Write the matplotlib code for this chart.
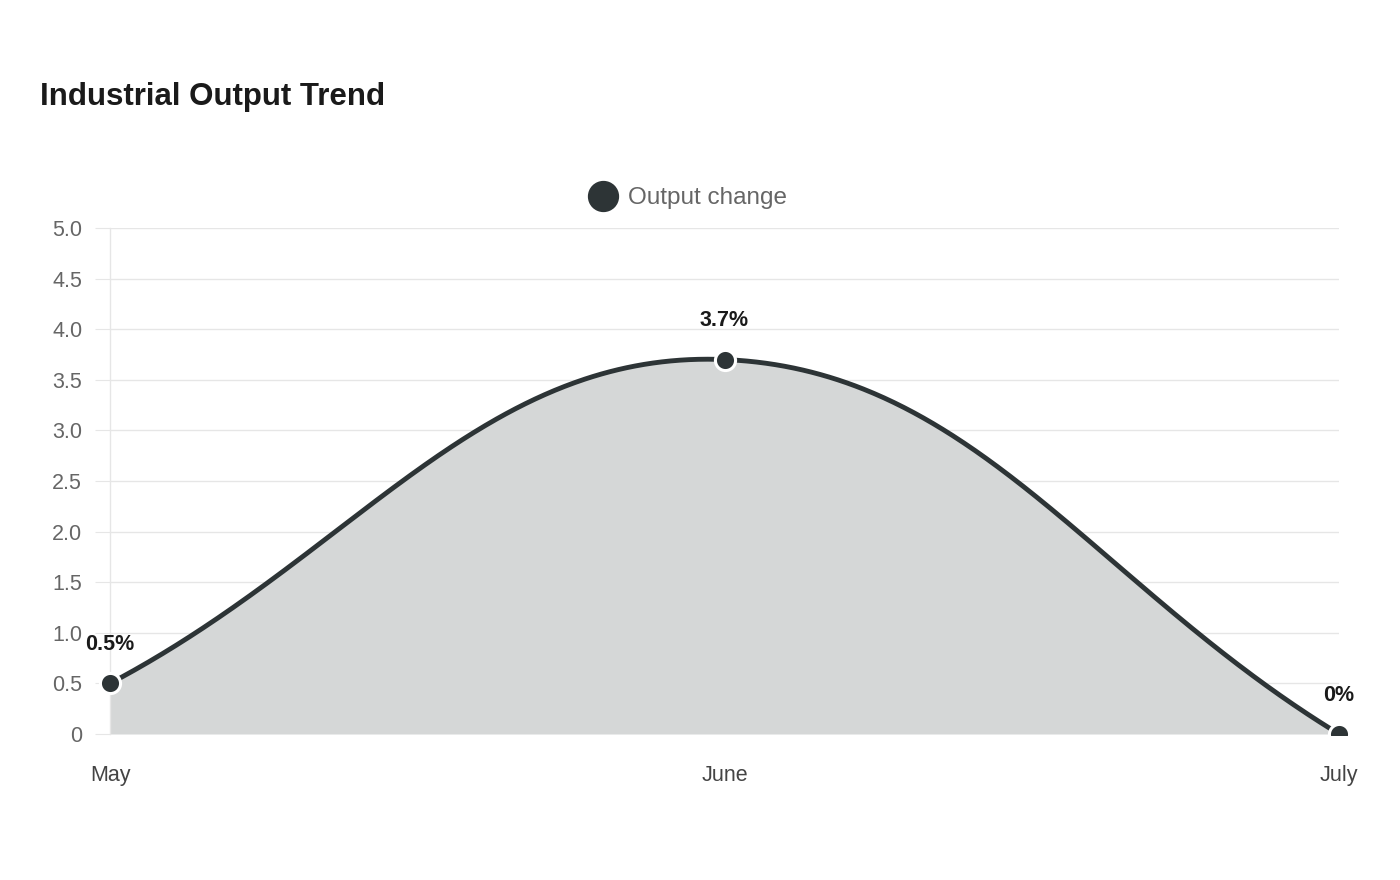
import numpy as np
import matplotlib.pyplot as plt
from matplotlib.patches import Rectangle
from matplotlib.lines import Line2D
from matplotlib.ticker import FuncFormatter

plt.rcParams['font.family'] = ['Liberation Sans', 'DejaVu Sans']

months = ["May", "June", "July"]
output_change = [0.5, 3.7, 0.0]
point_labels = ["0.5%", "3.7%", "0%"]

LINE = "#2d3436"
FILL = "#d5d7d7"
GRID = "#e6e6e6"
TENSION = 0.4
# pixel size of one unit on each axis, so the spline bends like the original
PX_X = 614.5
PX_Y = 101.2


def bezier_spline(xs, ys, t=TENSION, n=300):
    # same control points as a chart.js line with tension
    px = np.asarray(xs, float) * PX_X
    py = np.asarray(ys, float) * PX_Y
    k = len(px)
    ctrl = []
    for i in range(k):
        i0, i2 = max(i - 1, 0), min(i + 1, k - 1)
        d01 = np.hypot(px[i] - px[i0], py[i] - py[i0])
        d12 = np.hypot(px[i2] - px[i], py[i2] - py[i])
        tot = d01 + d12
        fa = t * d01 / tot if tot else 0
        fb = t * d12 / tot if tot else 0
        dx, dy = px[i2] - px[i0], py[i2] - py[i0]
        ctrl.append(((px[i] - fa * dx, py[i] - fa * dy),
                     (px[i] + fb * dx, py[i] + fb * dy)))
    s = np.linspace(0, 1, n)
    cx, cy = [], []
    for i in range(k - 1):
        a = (px[i], py[i])
        b = ctrl[i][1]
        c = ctrl[i + 1][0]
        d = (px[i + 1], py[i + 1])
        w = [(1 - s) ** 3, 3 * (1 - s) ** 2 * s, 3 * (1 - s) * s ** 2, s ** 3]
        cx.append(w[0] * a[0] + w[1] * b[0] + w[2] * c[0] + w[3] * d[0])
        cy.append(w[0] * a[1] + w[1] * b[1] + w[2] * c[1] + w[3] * d[1])
    return np.concatenate(cx) / PX_X, np.concatenate(cy) / PX_Y


fig = plt.figure(figsize=(14, 8.8), dpi=100)
ax = fig.add_axes([110 / 1400, 146 / 880, 1229 / 1400, 506 / 880])

x = np.arange(len(months))
sx, sy = bezier_spline(x, output_change)

ax.fill_between(sx, 0, sy, color=FILL, lw=0, zorder=1)
ax.plot(sx, sy, color=LINE, lw=3.5, solid_capstyle='round', zorder=3)

# clip the markers at the bottom of the plot only (July point is cut in half)
clip = Rectangle((-0.05, -0.002), 1.1, 1.1, transform=ax.transAxes, visible=False)
ax.add_patch(clip)
pts = ax.plot(x, output_change, 'o', ms=14.5, mfc=LINE, mec='white', mew=2.2,
              zorder=4, clip_on=True)[0]
pts.set_clip_path(clip)

for xi, yi, lab in zip(x, output_change, point_labels):
    ax.annotate(lab, (xi, yi), xytext=(0, 27.8), textcoords='offset points',
                ha='center', va='center', fontsize=15.5, fontweight='bold',
                color='#1a1a1a', zorder=5)

ax.set_xlim(0, 2)
ax.set_ylim(0, 5)
ax.set_xticks(x)
ax.set_xticklabels(months)
ax.set_yticks(np.arange(0, 5.01, 0.5))
ax.yaxis.set_major_formatter(FuncFormatter(lambda v, p: "0" if v == 0 else f"{v:.1f}"))

ax.grid(axis='y', color=GRID, lw=1)
ax.set_axisbelow(True)
for side in ['top', 'right', 'bottom']:
    ax.spines[side].set_visible(False)
ax.spines['left'].set_color(GRID)
ax.spines['left'].set_linewidth(1)

ax.tick_params(axis='y', length=11, width=0.8, color=GRID, pad=9,
               labelsize=15.5, labelcolor='#666666')
ax.tick_params(axis='x', length=0, pad=22.5, labelsize=15.5, labelcolor='#444444')

fig.text(40 / 1400, 1 - 97 / 880, "Industrial Output Trend", fontsize=22.5,
         fontweight='bold', color='#1a1a1a', va='center', ha='left')

# legend drawn by hand: dot + label above the plot
fig.add_artist(Line2D([603 / 1400], [1 - 196 / 880], transform=fig.transFigure,
                      marker='o', ms=21.5, mfc=LINE, mec=LINE, ls=''))
fig.text(628 / 1400, 1 - 198 / 880, "Output change", fontsize=17.5,
         color='#666666', va='center', ha='left')

fig.savefig("out.png", dpi=100, facecolor='white')
